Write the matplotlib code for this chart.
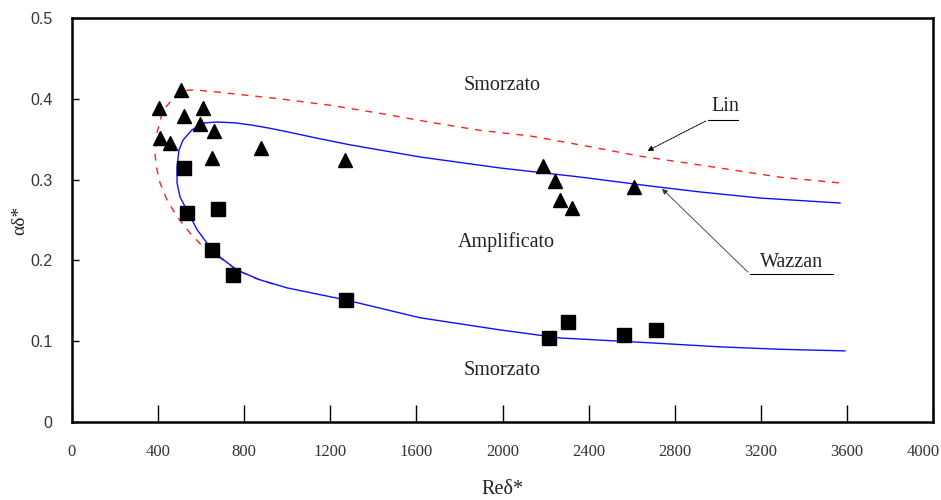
import matplotlib
matplotlib.use("Agg")
import matplotlib.pyplot as plt
from matplotlib.transforms import ScaledTranslation

# dati sperimentali: punti instabili (triangoli) e stabili (quadrati)
tri_re = [404, 506, 409, 455, 520, 609, 595, 660, 650, 878, 1268, 2188, 2244, 2267, 2323, 2611]
tri_a = [0.389, 0.411, 0.352, 0.345, 0.379, 0.389, 0.369, 0.360, 0.327, 0.339, 0.324, 0.317, 0.298, 0.275, 0.265, 0.291]

sq_re = [520, 534, 678, 650, 748, 1273, 2216, 2304, 2564, 2713]
sq_a = [0.314, 0.259, 0.264, 0.213, 0.182, 0.151, 0.104, 0.124, 0.108, 0.114]

# curva neutra di Wazzan (ramo inferiore -> naso -> ramo superiore)
wazzan_re = [3591, 3289, 3010, 2685, 2267, 1988, 1617, 1273, 999, 873, 767, 688, 627, 581,
             534, 502, 488, 488, 497, 516, 557, 609, 674, 760, 841, 920, 999, 1152, 1292, 1617,
             1988, 2360, 2685, 2918, 3196, 3568]
wazzan_a = [0.088, 0.090, 0.093, 0.098, 0.104, 0.114, 0.129, 0.151, 0.166, 0.176, 0.188, 0.204, 0.2215, 0.238,
            0.262, 0.2785, 0.296, 0.3156, 0.3366, 0.349, 0.3614, 0.370, 0.3713, 0.3702, 0.3672, 0.3635, 0.3592, 0.3505,
            0.3430, 0.328, 0.3144, 0.3032, 0.2921, 0.2847, 0.2772, 0.271]

# curva neutra di Lin
lin_re = [3563, 3289, 2918, 2639, 2360, 2128, 1895, 1663, 1431, 1199, 966, 841, 688, 571,
          502, 423, 395, 386, 395, 409, 441, 488, 548, 609, 688, 767, 850, 943]
lin_a = [0.296, 0.303, 0.318, 0.329, 0.343, 0.354, 0.361, 0.371, 0.382, 0.392, 0.400, 0.4035, 0.408, 0.411,
         0.410, 0.386, 0.358, 0.330, 0.312, 0.296, 0.275, 0.254, 0.234, 0.2166, 0.203, 0.188, 0.178, 0.170]

xticks = [0, 400, 800, 1200, 1600, 2000, 2400, 2800, 3200, 3600, 4000]
yticks = [0, 0.1, 0.2, 0.3, 0.4, 0.5]

serif = ["Liberation Serif", "DejaVu Serif"]

fig = plt.figure(figsize=(9.41, 5.0), dpi=100)
ax = fig.add_axes([72 / 941, 1 - 422 / 500, 861 / 941, 404 / 500])

ax.plot(lin_re, lin_a, color="#ff2020", lw=1.0, dashes=(5, 5))
ax.plot(wazzan_re, wazzan_a, color="#1010ff", lw=1.0)
ax.plot(tri_re, tri_a, "^", color="black", ms=10, ls="none")
ax.plot(sq_re, sq_a, "s", color="black", ms=9.5, ls="none")

# etichette delle regioni
ax.text(1998, 0.417, "Smorzato", family=serif, fontsize=14.5, ha="center", va="center", color="#222")
ax.text(2016, 0.223, "Amplificato", family=serif, fontsize=14.5, ha="center", va="center", color="#222")
ax.text(1998, 0.064, "Smorzato", family=serif, fontsize=14.5, ha="center", va="center", color="#222")

# richiami con freccia
ax.annotate("", xy=(2662, 0.334), xytext=(2955, 0.374),
            arrowprops=dict(arrowstyle="-|>", lw=0.7, color="black", mutation_scale=8, linestyle=(0, (2, 1))))
ax.plot([2955, 3094], [0.374, 0.374], color="black", lw=0.8)
ax.text(3034, 0.390, "Lin", family=serif, fontsize=14.5, ha="center", va="center", color="#222")

ax.annotate("", xy=(2732, 0.291), xytext=(3150, 0.183),
            arrowprops=dict(arrowstyle="-|>", lw=0.6, color="#333", mutation_scale=8))
ax.plot([3150, 3535], [0.183, 0.183], color="black", lw=0.8)
ax.text(3345, 0.198, "Wazzan", family=serif, fontsize=14.5, ha="center", va="center", color="#222")

ax.set_xlim(0, 4000)
ax.set_ylim(0, 0.5)
ax.set_xticks(xticks)
ax.set_xticklabels([str(v) for v in xticks], family=serif, fontsize=12, color="#333")
ax.set_yticks(yticks)
ax.set_yticklabels(["0", "0.1", "0.2", "0.3", "0.4", "0.5"], family="Liberation Sans", fontsize=11.5, color="#333")
ax.tick_params(axis="x", direction="in", length=12, width=1.0, pad=16)
ax.tick_params(axis="y", direction="in", length=5, width=1.0, pad=14)

# l'ultima etichetta va spostata a sinistra per restare nella figura
last = ax.get_xticklabels()[-1]
last.set_transform(last.get_transform() + ScaledTranslation(-0.1, 0, fig.dpi_scale_trans))

for side in ["left", "bottom", "right", "top"]:
    ax.spines[side].set_linewidth(1.8)

ax.set_xlabel("Reδ*", family=serif, fontsize=14.5, labelpad=14, color="#222")
ax.set_ylabel("αδ*", family=serif, fontsize=14, color="#222", va="center")
ax.yaxis.set_label_coords(-0.061, 0.5)

fig.savefig("out.png", dpi=100)
